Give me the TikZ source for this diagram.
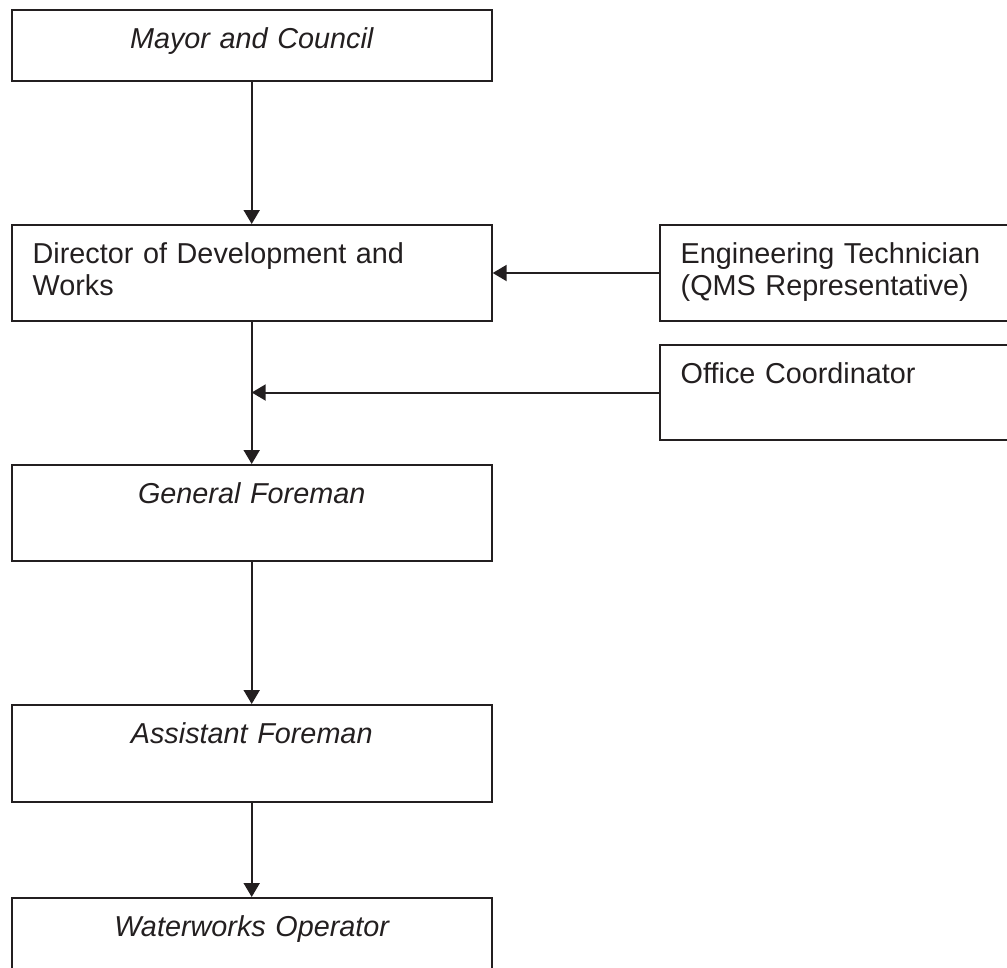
\documentclass[tikz,border=0pt]{standalone}
\usepackage{fontspec}
\setmainfont{Liberation Sans}
\usepackage{tikz}
\definecolor{ink}{HTML}{231F20}
\usetikzlibrary{arrows.meta, positioning}

\begin{document}
\begin{tikzpicture}[x=1pt, y=-1pt,
  orgbox/.style={draw=ink, text=ink, rectangle, line width=2pt, inner xsep=21pt, inner ysep=0pt,
    text width=438pt, text height=38.5pt, text depth=57.5pt, align=center,
    font=\fontsize{28.8}{32}\selectfont\itshape},
  leftbox/.style={orgbox, align=left, font=\fontsize{28.8}{32}\selectfont},
  ->/.style={-{Triangle[length=14pt, width=16pt]}, draw=ink, line width=2pt}, node distance=142pt]
  \useasboundingbox (0,0) rectangle (1007,967);
  \clip (0,0) rectangle (1007,967);
  \node[orgbox, anchor=north west, text depth=32.5pt] (mayor) at (10.7,9) {Mayor and Council};
  \node[leftbox] (director) [below = of mayor] {Director of Development and\\Works};
  \node[leftbox] (tech) [right = 166pt of director] {Engineering Technician\\(QMS Representative)};
  \node[leftbox, text depth=56.5pt] (office) [below = 22pt of tech] {Office Coordinator};
  \node[orgbox] (general) [below = of director] {General Foreman};
  \node[orgbox, text depth=58.5pt] (assistant) [below = of general] {Assistant Foreman};
  \node[orgbox] (operator) [below = 94pt of assistant] {Waterworks Operator};
  \coordinate (join) at (director.south |- office.west);
  \draw[->] (mayor) to (director);
  \draw[->] (tech) to (director);
  \draw[->] (director) to (general);
  \draw[->] (office.west) to (join);
  \draw[->] (general) to (assistant);
  \draw[->] (assistant) to (operator);
\end{tikzpicture}
\end{document}
